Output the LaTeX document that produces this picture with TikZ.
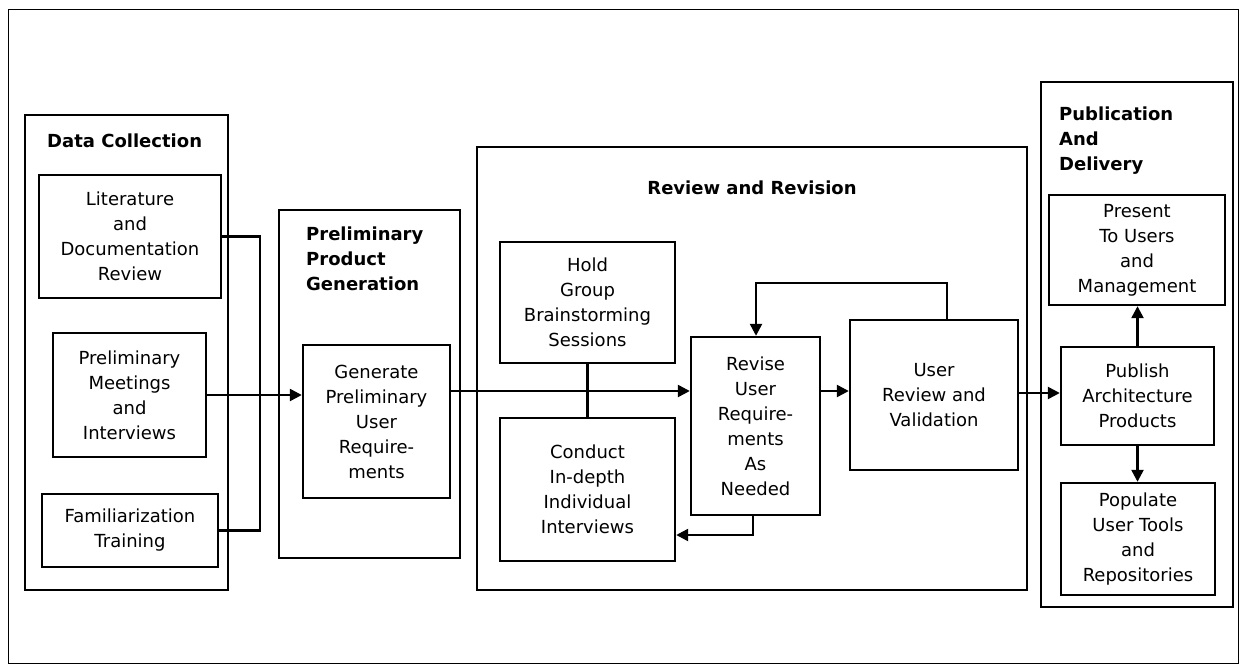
\documentclass[tikz,border=0pt]{standalone}
\usepackage{fontspec}
\setmainfont{DejaVu Sans}
\usetikzlibrary{arrows.meta}
\begin{document}
\begin{tikzpicture}[x=1pt,y=-1pt,
  font=\fontsize{18}{25}\selectfont,
  box/.style={draw, line width=2.4pt, align=center, inner sep=0pt},
  grp/.style={draw, line width=2.4pt, inner sep=0pt},
  ttl/.style={font=\fontsize{18}{25}\selectfont\bfseries, align=left, inner sep=0pt},
  ln/.style={line width=2.4pt},
  arr/.style={line width=2.4pt, -{Triangle[length=12pt,width=12pt]}}]
\useasboundingbox (0,0) rectangle (1241,666);
\draw[line width=1pt] (8,10) rectangle (1238,663);

% groups
\node[grp, minimum width=203pt, minimum height=475pt] (dc) at (126.5,352.5) {};
\node[grp, minimum width=181pt, minimum height=348pt] (ppg) at (369.5,384) {};
\node[grp, minimum width=550pt, minimum height=443pt] (rr) at (752,368.5) {};
\node[grp, minimum width=192pt, minimum height=525pt] (pad) at (1137,344.5) {};

% titles
\node[ttl, anchor=west] (dct) at (47,141) {Data Collection};
\node[ttl, anchor=north west] (ppgt) at (306,227) {Preliminary\\Product\\Generation};
\node[ttl] (rrt) at (752,188) {Review and Revision};
\node[ttl, anchor=north west] (padt) at (1059,107) {Publication\\And\\Delivery};

% boxes
\node[box, minimum width=182pt, minimum height=123pt] (lit) at (130,236.5) {Literature\\and\\Documentation\\Review};
\node[box, minimum width=153pt, minimum height=124pt] (meet) at (129.5,395) {Preliminary\\Meetings\\and\\Interviews};
\node[box, minimum width=176pt, minimum height=73pt] (fam) at (130,530.5) {Familiarization\\Training};
\node[box, minimum width=147pt, minimum height=153pt] (gen) at (376.5,421.5) {Generate\\Preliminary\\User\\Require-\\ments};
\node[box, minimum width=175pt, minimum height=121pt] (hold) at (587.5,302.5) {Hold\\Group\\Brainstorming\\Sessions};
\node[box, minimum width=175pt, minimum height=143pt] (cond) at (587.5,489.5) {Conduct\\In-depth\\Individual\\Interviews};
\node[box, minimum width=129pt, minimum height=178pt] (rev) at (755.5,426) {Revise\\User\\Require-\\ments\\As\\Needed};
\node[box, minimum width=168pt, minimum height=150pt] (urv) at (934,395) {User\\Review and\\Validation};
\node[box, minimum width=176pt, minimum height=110pt] (pres) at (1137,250) {Present\\To Users\\and\\Management};
\node[box, minimum width=153pt, minimum height=98pt] (pub) at (1137.5,396) {Publish\\Architecture\\Products};
\node[box, minimum width=154pt, minimum height=112pt] (pop) at (1138,539) {Populate\\User Tools\\and\\Repositories};

% helper coordinates
\coordinate (jx) at (260,237);
\coordinate (main) at (0,391);
\coordinate (fb) at (753,535);
\coordinate (lp) at (947,283);
\coordinate (lp2) at (756,283);
\coordinate (pm) at (0,393);

% connectors
\draw[ln] (lit.east) -- (lit.east -| jx) |- (fam.east);
\draw[arr] (meet.east) -- (meet.east -| gen.west);
\draw[arr] (gen.east |- main) -- (rev.west |- main);
\draw[ln] (hold.south) -- (cond.north);
\draw[arr] (rev.south -| fb) -- (fb) -- (fb -| cond.east);
\draw[arr] (rev.east |- main) -- (urv.west |- main);
\draw[arr] (urv.north -| lp) -- (lp) -- (lp2) -- (rev.north -| lp2);
\draw[arr] (urv.east |- pm) -- (pub.west |- pm);
\draw[arr] (pub.north) -- (pres.south -| pub.north);
\draw[arr] (pub.south) -- (pop.north -| pub.south);
\end{tikzpicture}
\end{document}
